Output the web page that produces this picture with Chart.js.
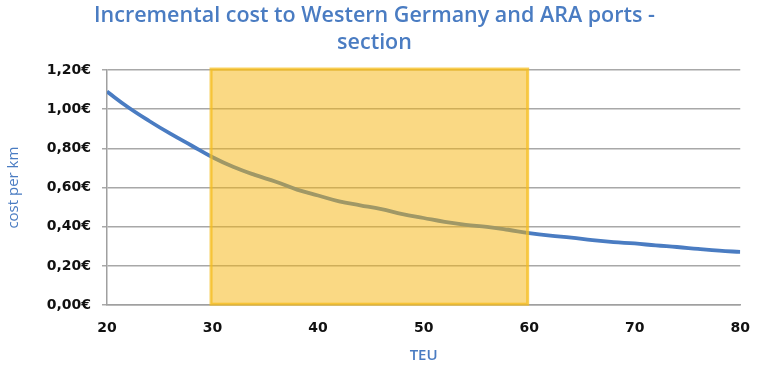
<!DOCTYPE html>
<html>
<head>
<meta charset="utf-8">
<script src="https://cdn.jsdelivr.net/npm/chart.js@4.4.1/dist/chart.umd.min.js"></script>
<style>
  html, body { margin: 0; padding: 0; background: #fff; }
  #wrap { width: 760px; height: 366px; }
</style>
</head>
<body>
<div id="wrap"><canvas id="costChart"></canvas></div>
<script>
// incremental cost per km by TEU
const teu = [20, 22, 24, 26, 28, 30, 32, 34, 36, 38, 40, 42, 44, 46, 48, 50,
             52, 54, 56, 58, 60, 62, 64, 66, 68, 70, 72, 74, 76, 78, 80];
const costPerKm = [1.09, 1.01, 0.94, 0.875, 0.815, 0.755, 0.705, 0.665, 0.63, 0.59, 0.56,
                   0.53, 0.51, 0.49, 0.465, 0.445, 0.425, 0.41, 0.40, 0.385, 0.368,
                   0.355, 0.345, 0.332, 0.322, 0.315, 0.305, 0.297, 0.287, 0.278, 0.272];
// shaded section on the TEU axis
const sectionRange = [30, 60];
const yTicks = [0, 0.2, 0.4, 0.6, 0.8, 1.0, 1.2];
const xTicks = [20, 30, 40, 50, 60, 70, 80];

const blue = '#4a7cc2';

// yellow band drawn over the line, from the axis scales
const sectionBand = {
    id: 'sectionBand',
    afterDatasetsDraw(chart) {
        const x = chart.scales.x, y = chart.scales.y;
        const ctx = chart.ctx;
        const left = x.getPixelForValue(sectionRange[0]) - 1.5;
        const right = x.getPixelForValue(sectionRange[1]) - 1.5;
        const top = y.getPixelForValue(yTicks[yTicks.length - 1]) - 1;
        const bottom = y.getPixelForValue(0) - 1;
        ctx.save();
        ctx.fillStyle = 'rgba(245, 180, 10, 0.5)';
        ctx.fillRect(left, top, right - left, bottom - top);
        ctx.strokeStyle = 'rgba(245, 190, 30, 0.75)';
        ctx.lineWidth = 3;
        ctx.strokeRect(left, top, right - left, bottom - top);
        ctx.restore();
    }
};

new Chart(document.getElementById('costChart'), {
    type: 'line',
    data: {
        datasets: [{
            data: teu.map((t, i) => ({ x: t, y: costPerKm[i] })),
            borderColor: blue,
            borderWidth: 3.8,
            pointRadius: 0,
            tension: 0.4,
            fill: false
        }]
    },
    options: {
        responsive: true,
        maintainAspectRatio: false,
        animation: false,
        layout: { padding: { left: 0, right: 11, top: 0, bottom: 0 } },
        plugins: {
            legend: { display: false },
            tooltip: { enabled: false },
            title: {
                display: true,
                text: ['Incremental cost to Western Germany and ARA ports -', 'section'],
                color: blue,
                font: { family: 'Open Sans', size: 21.5, weight: 600, lineHeight: 1.28 },
                padding: { top: 2, bottom: 13 }
            }
        },
        scales: {
            x: {
                type: 'linear',
                min: 20,
                max: 80,
                afterBuildTicks(scale) { scale.ticks = xTicks.map(v => ({ value: v })); },
                grid: { display: false, drawTicks: true, tickLength: 5 },
                border: { color: '#a0a0a0', width: 1.5 },
                ticks: {
                    color: '#111',
                    padding: 10,
                    font: { family: 'DejaVu Sans', size: 14, weight: 'bold' }
                },
                title: {
                    display: true,
                    text: 'TEU',
                    color: blue,
                    font: { family: 'Open Sans', size: 15, weight: 600 },
                    padding: { top: 0, bottom: 1 }
                }
            },
            y: {
                min: 0,
                max: 1.2,
                afterBuildTicks(scale) { scale.ticks = yTicks.map(v => ({ value: v })); },
                afterFit(scale) { scale.width = 107; },
                grid: { color: '#a8a8a8', lineWidth: 1.5, tickLength: 5 },
                border: { color: '#a0a0a0', width: 1.5 },
                ticks: {
                    color: '#111',
                    padding: 11,
                    font: { family: 'DejaVu Sans', size: 14, weight: 'bold' },
                    callback: v => v.toFixed(2).replace('.', ',') + '\u20ac'
                },
                title: {
                    display: true,
                    text: 'cost per km',
                    color: blue,
                    font: { family: 'Open Sans', size: 15 },
                    padding: { top: 5, bottom: 6 }
                }
            }
        }
    },
    plugins: [sectionBand]
});
</script>
</body>
</html>
